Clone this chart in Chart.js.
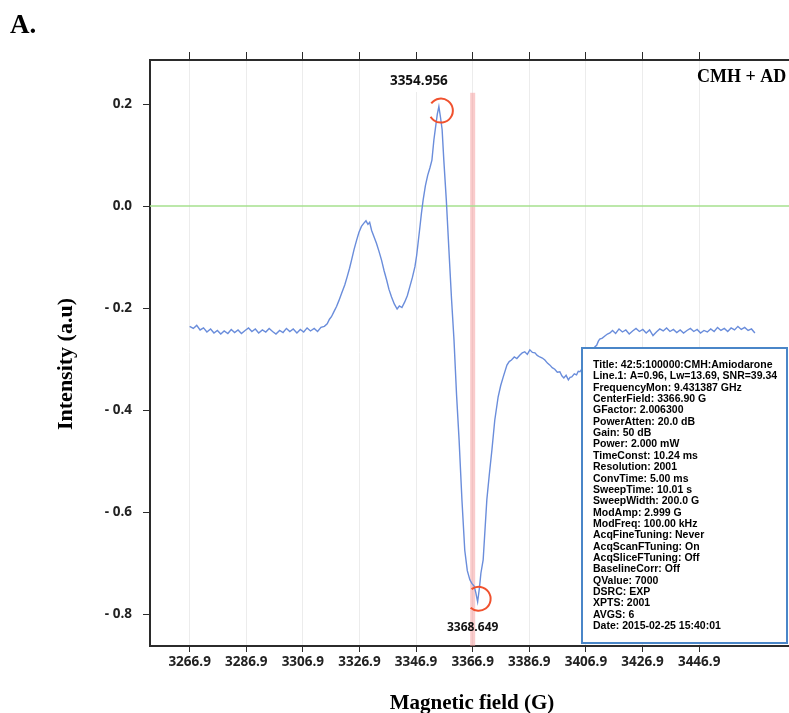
<!DOCTYPE html>
<html>
<head>
<meta charset="utf-8">
<title>EPR spectrum - CMH + AD</title>
<script src="https://cdn.jsdelivr.net/npm/chart.js@4.4.1/dist/chart.umd.min.js"></script>
<style>
  html, body { margin: 0; padding: 0; background: #fff; overflow: hidden; }
  #wrap { position: relative; width: 850px; height: 713px; }
</style>
</head>
<body>
<div id="wrap"><canvas id="esrChart" width="850" height="713"></canvas></div>
<script>
// Magnetic field (G) of each sample
const fieldG = [
  3266.9, 3268.2, 3269.4, 3270.6, 3271.8, 3273.0, 3274.3, 3275.5, 3276.7, 3277.9,
  3279.1, 3280.4, 3281.6, 3282.8, 3284.0, 3285.2, 3286.5, 3287.7, 3288.9, 3290.1,
  3291.3, 3292.6, 3293.8, 3295.0, 3296.2, 3297.4, 3298.7, 3299.9, 3301.1, 3302.3,
  3303.5, 3304.8, 3306.0, 3307.2, 3308.4, 3309.6, 3310.9, 3312.1, 3313.3, 3314.5,
  3315.5, 3316.3, 3317.0, 3317.8, 3318.8, 3319.6, 3320.6, 3321.7, 3322.6, 3323.4,
  3324.1, 3325.0, 3325.9, 3326.7, 3327.6, 3328.4, 3329.2, 3329.9, 3330.5, 3331.2,
  3332.0, 3332.9, 3333.8, 3334.7, 3335.6, 3336.5, 3337.3, 3338.2, 3339.2, 3340.2,
  3341.0, 3341.9, 3342.9, 3343.8, 3344.7, 3345.6, 3346.5, 3347.1, 3347.6, 3348.2,
  3348.8, 3349.4, 3350.2, 3351.0, 3351.8, 3352.5, 3353.2, 3353.8, 3354.4, 3354.956,
  3355.5, 3356.1, 3356.7, 3357.6, 3358.5, 3359.4, 3360.3, 3361.2, 3362.1, 3363.1,
  3364.1, 3365.0, 3365.9, 3366.6, 3367.4, 3368.0, 3368.649, 3369.3, 3369.8, 3370.6,
  3371.9, 3372.8, 3373.7, 3374.7, 3375.9, 3376.8, 3377.7, 3379.0, 3379.8, 3380.6,
  3381.6, 3382.5, 3383.6, 3384.4, 3385.3, 3386.2, 3387.1, 3388.0, 3388.9, 3389.7,
  3390.6, 3391.5, 3392.4, 3393.3, 3394.2, 3395.0, 3395.9, 3396.8, 3397.7, 3398.4,
  3399.1, 3399.9, 3400.7, 3401.3, 3401.9, 3402.8, 3403.6, 3404.2, 3404.8, 3405.9,
  3406.7, 3407.6, 3408.6, 3409.5, 3410.1, 3410.7, 3411.3, 3411.8, 3412.7, 3413.6,
  3414.5, 3415.4, 3416.3, 3417.4, 3418.6, 3419.8, 3421.0, 3422.2, 3423.4, 3424.6,
  3425.8, 3427.0, 3428.2, 3429.4, 3430.6, 3431.8, 3433.0, 3434.2, 3435.4, 3436.6,
  3437.8, 3439.0, 3440.2, 3441.4, 3442.6, 3443.8, 3445.0, 3446.2, 3447.4, 3448.6,
  3449.8, 3451.0, 3452.2, 3453.4, 3454.6, 3455.8, 3457.0, 3458.2, 3459.4, 3460.6,
  3461.8, 3463.0, 3464.2, 3465.4, 3466.6
];

// Intensity (a.u) at each field value
const intensity = [
  -0.236, -0.240, -0.234, -0.243, -0.239, -0.247, -0.241, -0.249, -0.244, -0.251,
  -0.245, -0.250, -0.242, -0.248, -0.243, -0.250, -0.244, -0.239, -0.246, -0.241,
  -0.249, -0.243, -0.247, -0.240, -0.246, -0.251, -0.244, -0.248, -0.240, -0.246,
  -0.241, -0.249, -0.242, -0.247, -0.239, -0.245, -0.240, -0.246, -0.238, -0.236,
  -0.231, -0.222, -0.217, -0.208, -0.197, -0.186, -0.171, -0.155, -0.138, -0.122,
  -0.106, -0.085, -0.067, -0.052, -0.040, -0.034, -0.029, -0.036, -0.032, -0.048,
  -0.060, -0.073, -0.089, -0.106, -0.127, -0.145, -0.163, -0.178, -0.192, -0.202,
  -0.196, -0.199, -0.188, -0.176, -0.158, -0.140, -0.119, -0.097, -0.073, -0.044,
  -0.014, 0.012, 0.040, 0.060, 0.075, 0.090, 0.130, 0.155, 0.180, 0.195,
  0.175, 0.150, 0.090, 0.010, -0.086, -0.180, -0.263, -0.370, -0.459, -0.576,
  -0.675, -0.715, -0.733, -0.740, -0.745, -0.758, -0.776, -0.748, -0.720, -0.694,
  -0.576, -0.525, -0.478, -0.420, -0.374, -0.352, -0.335, -0.312, -0.305, -0.302,
  -0.296, -0.299, -0.292, -0.288, -0.286, -0.291, -0.282, -0.287, -0.288, -0.293,
  -0.296, -0.298, -0.302, -0.308, -0.312, -0.317, -0.320, -0.326, -0.325, -0.333,
  -0.337, -0.332, -0.341, -0.336, -0.335, -0.329, -0.331, -0.324, -0.325, -0.316,
  -0.306, -0.298, -0.290, -0.282, -0.276, -0.273, -0.265, -0.261, -0.259, -0.255,
  -0.251, -0.249, -0.244, -0.250, -0.241, -0.247, -0.243, -0.251, -0.245, -0.240,
  -0.246, -0.242, -0.249, -0.243, -0.254, -0.247, -0.241, -0.245, -0.239, -0.246,
  -0.242, -0.248, -0.243, -0.249, -0.244, -0.240, -0.246, -0.242, -0.249, -0.244,
  -0.247, -0.241, -0.246, -0.238, -0.244, -0.240, -0.246, -0.239, -0.243, -0.236,
  -0.242, -0.238, -0.244, -0.241, -0.249
];

const xTicks = [3266.9, 3286.9, 3306.9, 3326.9, 3346.9, 3366.9, 3386.9, 3406.9, 3426.9, 3446.9];
const yTicks = [-0.8, -0.6, -0.4, -0.2, 0.0, 0.2];

// marked extrema and centre field
const peakField = 3354.956, peakValue = 0.195;
const troughField = 3368.649, troughValue = -0.776;
const centerField = 3366.9;

const infoLines = [
  'Title: 42:5:100000:CMH:Amiodarone',
  'Line.1: A=0.96, Lw=13.69, SNR=39.34',
  'FrequencyMon: 9.431387 GHz',
  'CenterField: 3366.90 G',
  'GFactor: 2.006300',
  'PowerAtten: 20.0 dB',
  'Gain: 50 dB',
  'Power: 2.000 mW',
  'TimeConst: 10.24 ms',
  'Resolution: 2001',
  'ConvTime: 5.00 ms',
  'SweepTime: 10.01 s',
  'SweepWidth: 200.0 G',
  'ModAmp: 2.999 G',
  'ModFreq: 100.00 kHz',
  'AcqFineTuning: Never',
  'AcqScanFTuning: On',
  'AcqSliceFTuning: Off',
  'BaselineCorr: Off',
  'QValue: 7000',
  'DSRC: EXP',
  'XPTS: 2001',
  'AVGS: 6',
  'Date: 2015-02-25 15:40:01'
];

const SANS = '"Open Sans", "DejaVu Sans", sans-serif';
const SERIF = '"Liberation Serif", "DejaVu Serif", serif';
const AXIS = '#2b2b2b';

// extra drawing: zero line, centre-field band, markers, notes, titles
const overlay = {
  id: 'overlay',
  beforeDatasetsDraw(chart) {
    const { ctx, chartArea: a, scales: { x, y } } = chart;
    ctx.save();
    // centre field band
    const cx = x.getPixelForValue(centerField);
    ctx.fillStyle = 'rgba(246, 160, 160, 0.55)';
    ctx.fillRect(cx - 2.5, y.getPixelForValue(0.222), 5, a.bottom - y.getPixelForValue(0.222));
    // zero line
    const zy = y.getPixelForValue(0);
    ctx.strokeStyle = '#a6e08e';
    ctx.lineWidth = 1.5;
    ctx.beginPath();
    ctx.moveTo(a.left, zy);
    ctx.lineTo(a.right, zy);
    ctx.stroke();
    // white backing behind peak label
    const px = x.getPixelForValue(peakField);
    ctx.fillStyle = '#fff';
    ctx.fillRect(px - 55, a.top + 1, 70, 31);
    ctx.restore();
  },
  afterDatasetsDraw(chart) {
    const { ctx, scales: { x, y } } = chart;
    ctx.save();
    // red circles round the extrema
    ctx.strokeStyle = '#f0512e';
    ctx.lineWidth = 2;
    const px = x.getPixelForValue(peakField), py = y.getPixelForValue(peakValue);
    ctx.beginPath();
    ctx.arc(px + 2, py + 4, 12, -2.5, 2.6);
    ctx.stroke();
    const tx = x.getPixelForValue(troughField), ty = y.getPixelForValue(troughValue);
    ctx.beginPath();
    ctx.arc(tx + 1, ty - 3, 12, -2.2, 2.3);
    ctx.stroke();

    // extrema labels
    ctx.fillStyle = '#111';
    ctx.textAlign = 'center';
    ctx.textBaseline = 'alphabetic';
    ctx.font = 'bold 13.5px ' + SANS;
    ctx.fillText(peakField.toFixed(3), px - 20, py - 22);
    ctx.font = 'bold 12px ' + SANS;
    ctx.fillText(troughField.toFixed(3), tx - 5, ty + 29);

    // parameter box
    const bx = 582, by = 348, bw = 205, bh = 295;
    ctx.fillStyle = '#fff';
    ctx.fillRect(bx, by, bw, bh);
    ctx.strokeStyle = '#4a86c8';
    ctx.lineWidth = 2;
    ctx.strokeRect(bx, by, bw, bh);
    ctx.fillStyle = '#000';
    ctx.textAlign = 'left';
    ctx.font = 'bold 10.5px "Liberation Sans", Arial, sans-serif';
    infoLines.forEach((t, i) => ctx.fillText(t, bx + 11, by + 20 + i * 11.35));

    // sample name
    ctx.font = 'bold 18px ' + SERIF;
    ctx.fillText('CMH + AD', 697, 82);

    // panel letter
    ctx.font = 'bold 27px ' + SERIF;
    ctx.fillText('A.', 10, 33);

    // axis titles
    ctx.textAlign = 'center';
    ctx.textBaseline = 'middle';
    ctx.font = 'bold 21px ' + SERIF;
    ctx.fillText('Magnetic field (G)', 472, 704);
    ctx.translate(66, 364);
    ctx.rotate(-Math.PI / 2);
    ctx.font = 'bold 22px ' + SERIF;
    ctx.fillText('Intensity (a.u)', 0, 0);
    ctx.restore();
  }
};

const xMin = 3252.9, xMax = 3500.2;
const yMin = -0.8627, yMax = 0.2863;

new Chart(document.getElementById('esrChart'), {
  type: 'line',
  data: {
    datasets: [{
      label: 'CMH + AD',
      data: fieldG.map((g, i) => ({ x: g, y: intensity[i] })),
      borderColor: '#6a8ddb',
      borderWidth: 1.4,
      pointRadius: 0,
      tension: 0
    }]
  },
  options: {
    responsive: false,
    animation: false,
    devicePixelRatio: 1,
    layout: { padding: 0 },
    plugins: { legend: { display: false }, tooltip: { enabled: false } },
    scales: {
      x: {
        type: 'linear',
        position: 'bottom',
        min: xMin,
        max: xMax,
        afterBuildTicks: s => { s.ticks = xTicks.map(v => ({ value: v })); },
        afterFit: s => { s.height = 67; },
        ticks: {
          autoSkip: false,
          maxRotation: 0,
          padding: 2,
          color: '#222',
          font: { family: SANS, size: 13.5, weight: 'bold' },
          callback: v => v.toFixed(1)
        },
        grid: { color: '#ececec', lineWidth: 1, tickColor: AXIS, tickLength: 6 },
        border: { color: AXIS, width: 2 }
      },
      xTop: {
        type: 'linear',
        position: 'top',
        min: xMin,
        max: xMax,
        afterBuildTicks: s => { s.ticks = xTicks.map(v => ({ value: v })); },
        afterFit: s => { s.height = 60; },
        ticks: { display: false },
        grid: { drawOnChartArea: false, tickColor: AXIS, tickLength: 8 },
        border: { color: AXIS, width: 2 }
      },
      y: {
        type: 'linear',
        min: yMin,
        max: yMax,
        afterBuildTicks: s => { s.ticks = yTicks.map(v => ({ value: v })); },
        afterFit: s => { s.width = 150; },
        ticks: {
          padding: 11,
          color: '#222',
          font: { family: SANS, size: 13.5, weight: 'bold' },
          callback: v => (v < -0.001 ? '- ' + Math.abs(v).toFixed(1) : Math.abs(v).toFixed(1))
        },
        grid: { drawOnChartArea: false, tickColor: AXIS, tickLength: 7 },
        border: { color: AXIS, width: 2 }
      }
    }
  },
  plugins: [overlay]
});
</script>
</body>
</html>
